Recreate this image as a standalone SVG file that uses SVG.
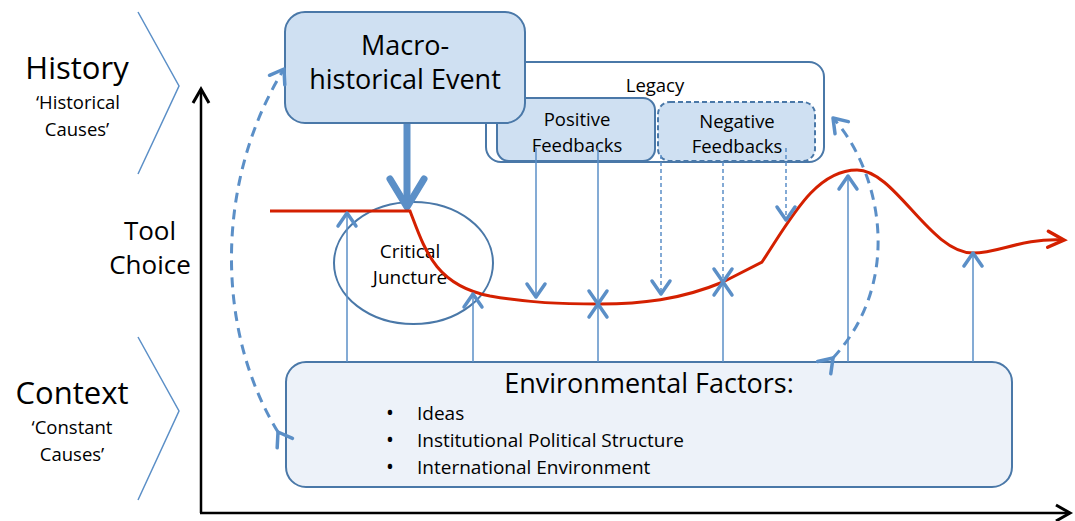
<svg xmlns="http://www.w3.org/2000/svg" width="1075" height="521" viewBox="0 0 1075 521">
<defs>
<style>
text{font-family:"Open Sans",Lato,"Liberation Sans",sans-serif;fill:#000}
.box{fill:#cfe0f2;stroke:#4a78a8;stroke-width:2}
.chev{fill:none;stroke:#5b8fc7;stroke-width:1.5}
.blue{fill:none;stroke:#5b8fc7;stroke-width:1.5}
.bdash{fill:none;stroke:#5b8fc7;stroke-width:1.5;stroke-dasharray:4 3}
.bigdash{fill:none;stroke:#5b8fc7;stroke-width:3;stroke-dasharray:10 7}
</style>
<marker id="ah" markerUnits="userSpaceOnUse" markerWidth="30" markerHeight="30" viewBox="-15 -15 30 30" refX="0" refY="0" orient="auto" overflow="visible">
<path d="M-13,-9 L0,0 L-13,9" fill="none" stroke="#5b8fc7" stroke-width="3.5" stroke-linecap="round" stroke-linejoin="round"/>
</marker>
<marker id="ahk" markerUnits="userSpaceOnUse" markerWidth="24" markerHeight="24" viewBox="-12 -12 24 24" refX="0" refY="0" orient="auto" overflow="visible">
<path d="M-14,-8 L0,0 L-14,8" fill="none" stroke="#000" stroke-width="3" stroke-linejoin="miter"/>
</marker>
<marker id="ahr" markerUnits="userSpaceOnUse" markerWidth="24" markerHeight="24" viewBox="-12 -12 24 24" refX="0" refY="0" orient="auto" overflow="visible">
<path d="M-16,-8 L0,0 L-16,8" fill="none" stroke="#d42000" stroke-width="3.5" stroke-linecap="round"/>
</marker>
<marker id="ahb" markerUnits="userSpaceOnUse" markerWidth="40" markerHeight="40" viewBox="-20 -20 40 40" refX="0" refY="0" orient="auto" overflow="visible">
<path d="M-28,-17 L0,0 L-28,17" fill="none" stroke="#5b8fc7" stroke-width="7" stroke-linecap="round" stroke-linejoin="round"/>
</marker>
</defs>

<g id="labels">
<polyline class="chev" points="138,12 179,86 138,174"/>
<polyline class="chev" points="138,337 179,411 138,500"/>
<text x="77" y="79" font-size="31" text-anchor="middle">History</text>
<text x="78" y="109" font-size="18.5" text-anchor="middle">‘Historical</text>
<text x="77" y="136" font-size="18.5" text-anchor="middle">Causes’</text>
<text x="150" y="240" font-size="26" text-anchor="middle">Tool</text>
<text x="150" y="274" font-size="26" text-anchor="middle">Choice</text>
<text x="72" y="404" font-size="31" text-anchor="middle">Context</text>
<text x="72" y="434" font-size="18.5" text-anchor="middle">‘Constant</text>
<text x="72" y="461" font-size="18.5" text-anchor="middle">Causes’</text>
</g>

<g id="axes">
<line x1="201" y1="513" x2="201" y2="89" stroke="#000" stroke-width="2.5" marker-end="url(#ahk)"/>
<line x1="200" y1="513" x2="1070" y2="513" stroke="#000" stroke-width="2.5" marker-end="url(#ahk)"/>
</g>

<g id="legacy">
<rect x="486" y="62" width="338" height="100" rx="15" fill="#fff" stroke="#4a78a8" stroke-width="2"/>
<text x="655" y="92" font-size="18.5" text-anchor="middle">Legacy</text>
</g>
<g id="positive">
<rect class="box" x="497" y="98" width="158" height="63" rx="12"/>
<text x="577" y="126" font-size="18.5" text-anchor="middle">Positive</text>
<text x="577" y="152" font-size="18.5" text-anchor="middle">Feedbacks</text>
</g>
<g id="negative">
<rect x="658" y="102" width="157" height="59" rx="12" fill="#cfe0f2" stroke="#4a78a8" stroke-width="2" stroke-dasharray="5 3"/>
<text x="737" y="128" font-size="18.5" text-anchor="middle">Negative</text>
<text x="737" y="153" font-size="18.5" text-anchor="middle">Feedbacks</text>
</g>
<g id="macro">
<rect class="box" x="285" y="12" width="240" height="111" rx="20"/>
<text x="405" y="55" font-size="27" text-anchor="middle">Macro-</text>
<text x="405" y="89" font-size="27" text-anchor="middle">historical Event</text>
</g>
<g id="juncture">
<ellipse cx="413.5" cy="263" rx="79.5" ry="61" fill="none" stroke="#4a78a8" stroke-width="2"/>
<text x="410" y="258" font-size="19" text-anchor="middle">Critical</text>
<text x="410" y="284" font-size="19" text-anchor="middle">Juncture</text>
</g>
<g id="environment">
<rect x="286" y="362" width="726" height="125" rx="20" fill="#edf2f9" stroke="#4a78a8" stroke-width="2"/>
<text x="649" y="393" font-size="27" text-anchor="middle">Environmental Factors:</text>
<text x="386" y="420" font-size="21">•</text>
<text x="417" y="420" font-size="19">Ideas</text>
<text x="386" y="447" font-size="21">•</text>
<text x="417" y="447" font-size="19">Institutional Political Structure</text>
<text x="386" y="474" font-size="21">•</text>
<text x="417" y="474" font-size="19">International Environment</text>
</g>

<g id="connectors">
<line x1="407" y1="124" x2="407" y2="207" stroke="#5b8fc7" stroke-width="7" marker-end="url(#ahb)"/>
<path d="M270,211 L410,211 C 425,250 435,285 490,296 C 530,303 560,304 600,304 C 640,304 680,300 723,282 L 762,262 C 790,220 815,170 857,170 C 895,170 930,253 973,253 C 1000,253 1020,238 1064,240" fill="none" stroke="#d42000" stroke-width="3" marker-end="url(#ahr)"/>
<line class="blue" x1="347" y1="362" x2="347" y2="213" marker-end="url(#ah)"/>
<line class="blue" x1="473" y1="362" x2="473" y2="294" marker-end="url(#ah)"/>
<line class="blue" x1="598" y1="362" x2="598" y2="304" marker-end="url(#ah)"/>
<line class="blue" x1="723" y1="362" x2="723" y2="282" marker-end="url(#ah)"/>
<line class="blue" x1="848" y1="362" x2="848" y2="176" marker-end="url(#ah)"/>
<line class="blue" x1="973" y1="362" x2="973" y2="253" marker-end="url(#ah)"/>
<line class="blue" x1="536" y1="148" x2="536" y2="297" marker-end="url(#ah)"/>
<line class="blue" x1="598" y1="148" x2="598" y2="304" marker-end="url(#ah)"/>
<line class="bdash" x1="661" y1="155" x2="661" y2="294" marker-end="url(#ah)"/>
<line class="bdash" x1="723" y1="162" x2="723" y2="282" marker-end="url(#ah)"/>
<line class="bdash" x1="786" y1="148" x2="786" y2="220" marker-end="url(#ah)"/>
<path class="bigdash" d="M278,432 C 215,330 215,180 284,69" marker-start="url(#ah)" marker-end="url(#ah)"/>
<path class="bigdash" d="M833,358 C 905,280 880,170 833,118" marker-start="url(#ah)" marker-end="url(#ah)"/>
</g>
</svg>
